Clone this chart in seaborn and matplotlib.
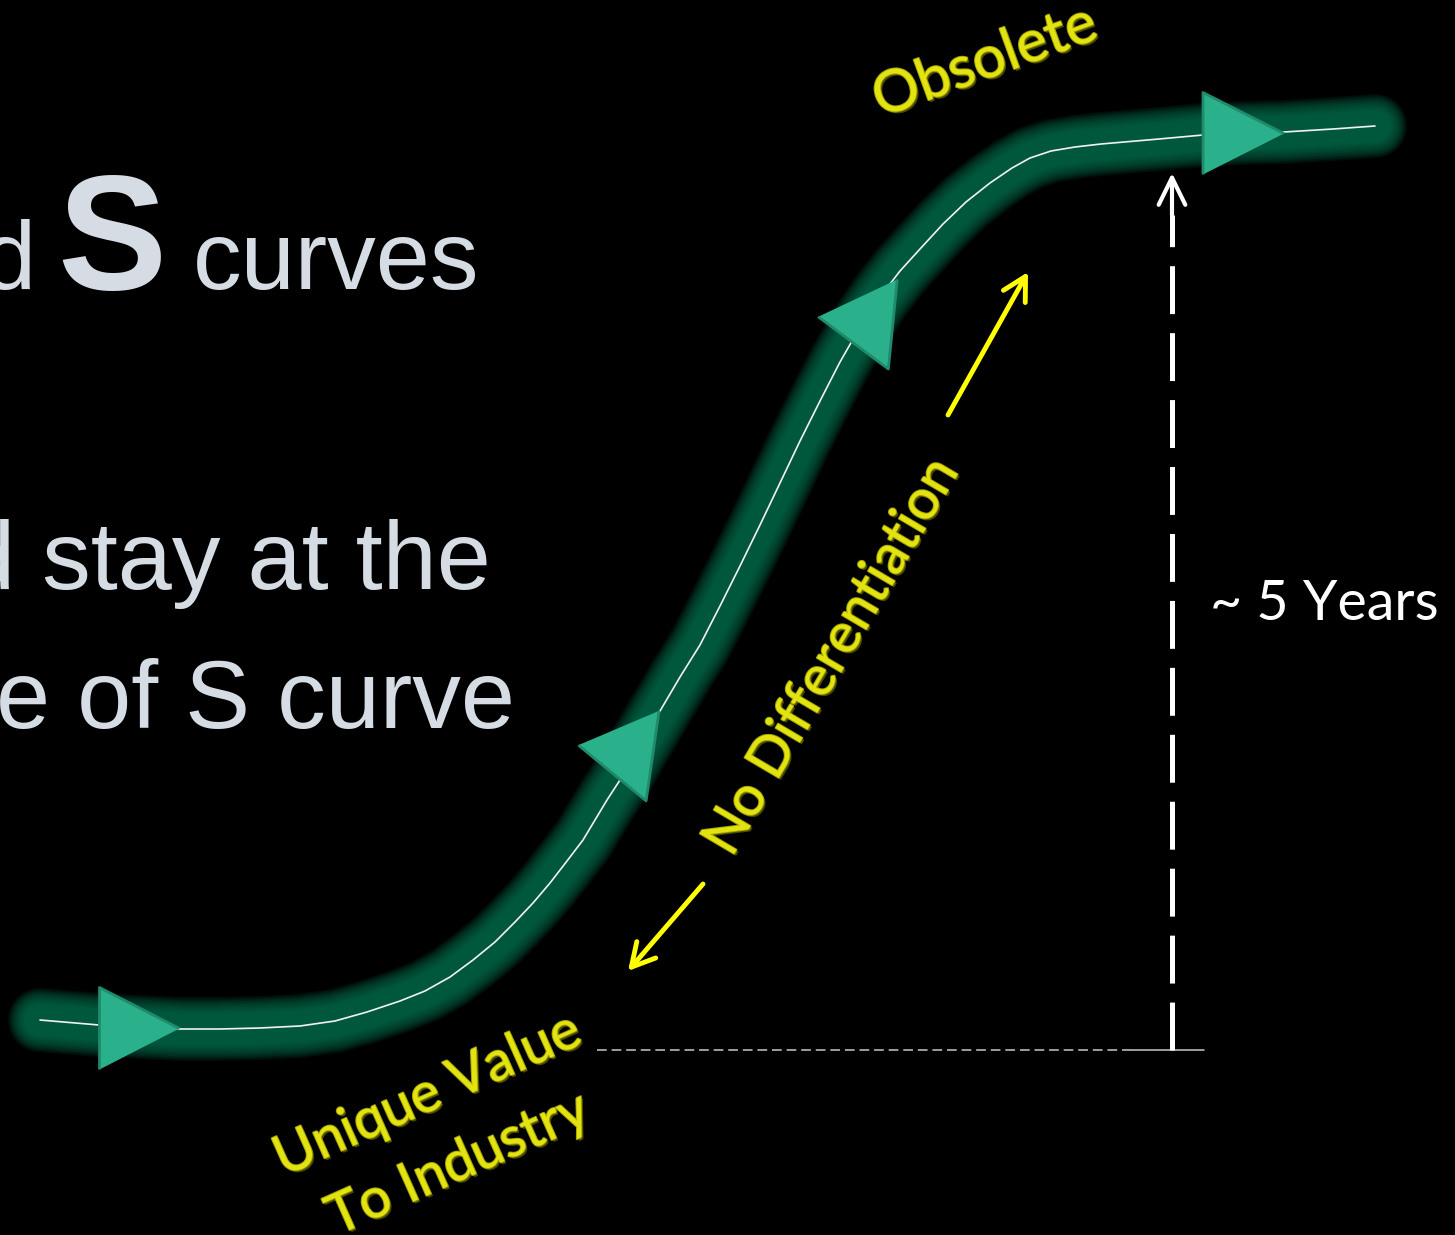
import numpy as np
import pandas as pd
import matplotlib
matplotlib.use('Agg')
import matplotlib.pyplot as plt
import matplotlib.patheffects as pe
from matplotlib import font_manager
import seaborn as sns

## Data (slide pixels, y grows downward)

# S curve traced along the glowing band
curve_x = [40, 99, 140, 179, 220, 260, 300, 335, 367, 400, 425, 450, 473, 495,
           515, 533, 550, 567, 583, 595, 607, 620, 640, 660, 680, 700, 720, 740,
           760, 780, 800, 820, 840, 860, 880, 900, 920, 943, 966, 990, 1012, 1030,
           1051, 1075, 1101, 1159, 1203, 1243, 1284, 1333, 1375]
curve_y = [1020, 1025, 1027, 1029, 1029, 1028, 1026, 1021, 1012, 1001, 991, 977, 960, 942,
           922, 903, 883, 861, 840, 820, 800, 780, 745, 711, 677, 645, 606, 566,
           525, 483, 441, 401, 362, 327, 297, 271, 249, 224, 202, 183, 168, 158,
           151, 147, 144, 139, 135, 133, 132, 129, 126]

# direction markers sitting on the curve (tip direction in degrees)
tri_x = [139, 615, 855, 1243]
tri_y = [1028, 750, 320, 133]
tri_angle = [0, 171.8, 174.3, 0]
tri_base = [82, 91, 90, 82]
tri_height = [80, 75, 75, 81]

# slide text
title_words = ['d', 'S', 'curves']
body_lines = ['d stay at the', 'e of S curve']
stage_labels = ['Obsolete', 'No Differentiation', 'Unique Value\nTo Industry']
span_label = '~ 5 Years'

## Style
sns.set_style('white')
plt.rcParams['font.family'] = ['Liberation Sans', 'DejaVu Sans']
plt.rcParams['lines.scale_dashes'] = False

installed = {f.name for f in font_manager.fontManager.ttflist}
narrow = 'Liberation Sans Narrow' in installed
body_font = 'Liberation Sans Narrow' if narrow else 'Liberation Sans'
body_size = 80 if narrow else 70
s_size = 126 if narrow else 118

text_grey = '#d6dce4'
yellow = '#e3e312'
bevel = [pe.SimplePatchShadow(offset=(1.5, -1.5), shadow_rgbFace='#4a4a00', alpha=1.0),
         pe.Stroke(linewidth=1.4, foreground='#a3a300'),
         pe.Normal()]

fig = plt.figure(figsize=(14.55, 12.35), dpi=100, facecolor='black')
ax = fig.add_axes([0, 0, 1, 1])
ax.set_facecolor('black')

## The glowing S curve
curve = pd.DataFrame({'x': curve_x, 'y': curve_y})
# soft halo: many thin-alpha layers, widest first
for lw in np.linspace(46, 22, 12):
    sns.lineplot(data=curve, x='x', y='y', sort=False, estimator=None, ax=ax,
                 color='#04704f', lw=lw, alpha=0.13,
                 solid_capstyle='round', solid_joinstyle='round')
sns.lineplot(data=curve, x='x', y='y', sort=False, estimator=None, ax=ax,
             color='#f2f2f2', lw=1.2, solid_joinstyle='round')

# triangles along the path
for x, y, ang, b, h in zip(tri_x, tri_y, tri_angle, tri_base, tri_height):
    t = np.deg2rad(ang)
    pts = np.array([[h / 2, 0], [-h / 2, b / 2], [-h / 2, -b / 2]])
    rot = np.array([[np.cos(t), -np.sin(t)], [np.sin(t), np.cos(t)]])
    pts = pts @ rot.T
    ms = 2 * np.abs(pts).max() * 72 / 100
    ax.plot([x], [y], marker=pts, ms=ms, mfc='#2bb08c', mec='#1f8a6c', mew=2,
            ls='none', zorder=5)

## Guides
# baseline at the start of the curve
ax.plot([597, 1130], [1050, 1050], color='#c8c8c8', lw=1.1, dashes=(7, 3.5))
ax.plot([1130, 1204], [1050, 1050], color='#c8c8c8', lw=1.1)

# dashed vertical span arrow
ax.plot([1172, 1172], [1050, 215], color='white', lw=3.6, dashes=(34.5, 13.7),
        solid_capstyle='butt', dash_capstyle='butt')
ax.annotate('', xy=(1172, 173), xytext=(1172, 215),
            arrowprops=dict(arrowstyle='->,head_length=0.65,head_width=0.32',
                            color='white', lw=3, mutation_scale=30,
                            shrinkA=0, shrinkB=0))

# yellow double arrow beside the steep part
for tip, tail in [((1028, 272), (948, 415)), ((628, 971), (703, 884))]:
    ax.annotate('', xy=tip, xytext=tail,
                arrowprops=dict(arrowstyle='->,head_length=0.55,head_width=0.3',
                                color='#ffff00', lw=3.5, mutation_scale=30,
                                shrinkA=0, shrinkB=0))

## Text
ax.text(36, 289, title_words[0], ha='right', va='baseline', fontsize=body_size,
        family=body_font, color=text_grey)
ax.text(112, 289, title_words[1], ha='center', va='baseline', fontsize=s_size,
        family=body_font, fontweight='bold', color=text_grey)
ax.text(193, 289, title_words[2], ha='left', va='baseline', fontsize=body_size,
        family=body_font, color=text_grey)
ax.text(491, 589, body_lines[0], ha='right', va='baseline', fontsize=body_size,
        family=body_font, color=text_grey)
ax.text(515, 728, body_lines[1], ha='right', va='baseline', fontsize=body_size,
        family=body_font, color=text_grey)

ax.text(985, 62, stage_labels[0], rotation=20, rotation_mode='anchor',
        ha='center', va='center', fontsize=42, family='Lato', color=yellow,
        path_effects=bevel)
ax.text(832, 657, stage_labels[1], rotation=59.5, rotation_mode='anchor',
        ha='center', va='center', fontsize=40, family='Lato', color=yellow,
        path_effects=bevel)
ax.text(443, 1130, stage_labels[2], rotation=24, rotation_mode='anchor',
        ha='center', va='center', multialignment='center', linespacing=1.6,
        fontsize=40, family='Lato', color=yellow, path_effects=bevel)

ax.text(1210, 620, span_label, ha='left', va='baseline', fontsize=40,
        family='Lato', color='white')

ax.set_xlim(0, 1455)
ax.set_ylim(1235, 0)
ax.axis('off')

fig.savefig('out.png', dpi=100, facecolor='black')
